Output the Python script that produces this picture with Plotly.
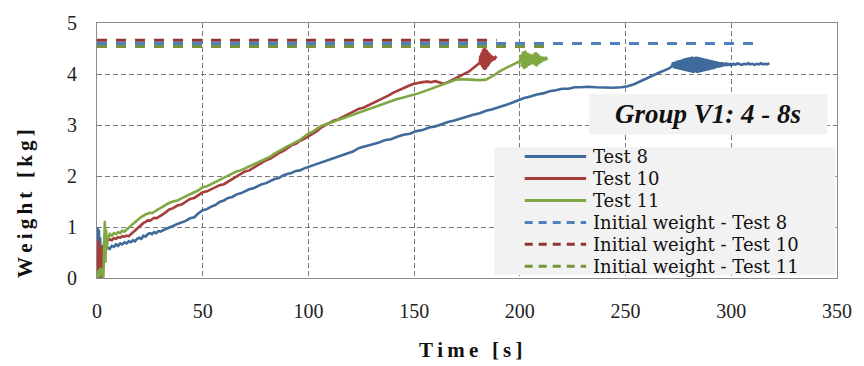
import plotly.graph_objects as go

# ---------------- data ----------------
t8 = [0, 0.3, 0.6, 0.9, 1.2, 1.5, 1.8, 2.2, 2.6, 3.0, 3.5, 4, 5, 6, 7, 8, 9, 10, 11, 12, 13, 14, 15, 16, 17, 18, 19, 20,
      21, 22, 23, 24, 25, 26, 27, 28, 29, 30, 32, 34, 36, 38, 40, 42, 44, 46, 48, 50, 52, 54, 56, 58, 60, 62, 64, 66,
      68, 70, 72, 74, 76, 78, 80, 82, 84, 86, 88, 90, 92, 94, 96, 98, 100, 103, 106, 109, 112, 115, 118, 121, 124,
      127, 130, 133, 136, 139, 142, 145, 148, 151, 154, 157, 160, 163, 166, 169, 172, 175, 178, 181, 184, 187, 190,
      193, 196, 199, 202, 205, 208, 211, 214, 217, 220, 223, 226, 229, 232, 236, 240, 244, 248, 251, 254, 257, 260,
      263, 266, 269, 271, 272, 272.5, 273, 273.5, 274, 274.5, 275, 275.5, 276, 276.5, 277, 277.5, 278, 278.5, 279,
      279.5, 280, 280.5, 281, 281.5, 282, 282.5, 283, 283.5, 284, 284.5, 285, 285.5, 286, 286.5, 287, 287.5, 288,
      288.5, 289, 289.5, 290, 290.5, 291, 291.5, 292, 292.5, 293, 293.5, 294, 294.5, 295, 295.5, 296, 296.5, 297,
      297.5, 298, 298.5, 299, 299.5, 300, 301, 302, 303, 304, 305, 306, 307, 308, 309, 310, 311, 312, 313, 314, 315,
      316, 317, 318]
w8 = [0.0, 1.0, 0.3, 0.95, 0.15, 0.8, 0.0, 0.6, 0.1, 0.55, 0.45, 0.58, 0.60, 0.57, 0.63, 0.61, 0.66, 0.63, 0.68, 0.66,
      0.70, 0.68, 0.72, 0.70, 0.74, 0.72, 0.77, 0.79, 0.77, 0.83, 0.81, 0.86, 0.88, 0.86, 0.90, 0.88, 0.92, 0.91,
      0.95, 0.98, 1.02, 1.06, 1.09, 1.12, 1.17, 1.19, 1.27, 1.33, 1.35, 1.40, 1.43, 1.49, 1.52, 1.57, 1.59, 1.64,
      1.66, 1.70, 1.74, 1.76, 1.80, 1.84, 1.86, 1.90, 1.94, 1.96, 2.01, 2.04, 2.06, 2.10, 2.11, 2.15, 2.18, 2.21,
      2.27, 2.30, 2.36, 2.40, 2.45, 2.48, 2.55, 2.58, 2.62, 2.65, 2.70, 2.72, 2.77, 2.81, 2.83, 2.88, 2.90, 2.95,
      2.97, 3.02, 3.06, 3.09, 3.13, 3.16, 3.20, 3.23, 3.28, 3.31, 3.35, 3.38, 3.43, 3.48, 3.53, 3.56, 3.60, 3.62,
      3.66, 3.68, 3.71, 3.71, 3.74, 3.74, 3.75, 3.74, 3.73, 3.73, 3.74, 3.76, 3.80, 3.86, 3.92, 3.97, 4.03, 4.08,
      4.12, 4.16, 4.23, 4.11, 4.24, 4.10, 4.26, 4.09, 4.27, 4.08, 4.28, 4.07, 4.30, 4.06, 4.31, 4.05, 4.32, 4.04,
      4.33, 4.03, 4.34, 4.02, 4.33, 4.03, 4.34, 4.02, 4.33, 4.03, 4.32, 4.04, 4.31, 4.05, 4.30, 4.06, 4.29, 4.07,
      4.28, 4.08, 4.27, 4.09, 4.26, 4.10, 4.25, 4.12, 4.24, 4.13, 4.23, 4.14, 4.23, 4.15, 4.22, 4.16, 4.22, 4.16,
      4.21, 4.17, 4.21, 4.17, 4.20, 4.18, 4.21, 4.19, 4.18, 4.20, 4.19, 4.21, 4.19, 4.20, 4.18, 4.20, 4.19, 4.21,
      4.19, 4.20, 4.19, 4.21, 4.20, 4.20]

t10 = [0, 0.3, 0.6, 0.9, 1.2, 1.5, 1.8, 2.1, 2.4, 2.7, 3.0, 3.4, 3.8, 4.2, 5, 6, 7, 8, 9, 10, 11, 12, 13, 14, 15, 16,
       17, 18, 19, 20, 21, 22, 23, 24, 25, 26, 27, 28, 29, 30, 32, 34, 36, 38, 40, 42, 44, 46, 48, 50, 52, 54, 56,
       58, 60, 62, 64, 66, 68, 70, 72, 74, 76, 78, 80, 82, 84, 86, 88, 90, 92, 94, 96, 98, 100, 102, 104, 106, 108,
       110, 112, 114, 116, 118, 120, 122, 124, 126, 128, 130, 132, 134, 136, 138, 140, 142, 144, 146, 148, 150, 152,
       154, 156, 158, 160, 162, 164, 166, 168, 170, 172, 174, 176, 178, 180, 181, 181.3, 181.6, 181.9, 182.2,
       182.5, 182.8, 183.1, 183.4, 183.7, 184, 184.3, 184.6, 184.9, 185.2, 185.5, 185.8, 186.1, 186.4, 186.7,
       187, 187.5, 188, 188.5, 189]
w10 = [0.0, 0.75, 0.1, 0.7, 0.0, 0.6, 0.05, 0.55, 0.2, 0.65, 0.3, 0.72, 0.6, 0.75, 0.73, 0.76, 0.74, 0.78, 0.77, 0.80,
       0.79, 0.82, 0.81, 0.83, 0.82, 0.86, 0.90, 0.93, 0.97, 1.00, 1.05, 1.08, 1.10, 1.13, 1.12, 1.16, 1.18, 1.17,
       1.20, 1.22, 1.27, 1.34, 1.37, 1.42, 1.44, 1.50, 1.55, 1.57, 1.62, 1.68, 1.70, 1.74, 1.77, 1.82, 1.84, 1.89,
       1.94, 2.00, 2.04, 2.09, 2.11, 2.16, 2.22, 2.26, 2.31, 2.34, 2.40, 2.45, 2.49, 2.55, 2.60, 2.63, 2.69, 2.73,
       2.78, 2.84, 2.88, 2.95, 3.00, 3.04, 3.09, 3.11, 3.15, 3.20, 3.23, 3.28, 3.32, 3.34, 3.38, 3.41, 3.45, 3.49,
       3.54, 3.58, 3.63, 3.67, 3.71, 3.75, 3.78, 3.81, 3.83, 3.84, 3.85, 3.84, 3.86, 3.83, 3.81, 3.84, 3.88, 3.93,
       3.97, 4.01, 4.05, 4.12, 4.18, 4.22, 4.36, 4.18, 4.42, 4.14, 4.48, 4.10, 4.52, 4.08, 4.50, 4.10, 4.47, 4.14,
       4.44, 4.17, 4.41, 4.21, 4.38, 4.24, 4.36, 4.26, 4.34, 4.28, 4.33, 4.31, 4.32]

t11 = [0, 0.5, 1.0, 1.5, 2.0, 2.5, 3.0, 3.4, 3.7, 4.0, 4.3, 4.6, 5, 6, 7, 8, 9, 10, 11, 12, 13, 14, 15, 16, 17, 18,
       19, 20, 21, 22, 23, 24, 25, 26, 27, 28, 29, 30, 32, 34, 36, 38, 40, 42, 44, 46, 48, 50, 52, 54, 56, 58, 60,
       62, 64, 66, 68, 70, 72, 74, 76, 78, 80, 82, 84, 86, 88, 90, 92, 94, 96, 98, 100, 102, 104, 106, 108, 110, 112,
       114, 116, 118, 120, 122, 124, 126, 128, 130, 132, 134, 136, 138, 140, 142, 144, 146, 148, 150, 152, 154, 156,
       158, 160, 162, 164, 166, 168, 170, 172, 175, 178, 181, 184, 186, 188, 190, 192, 194, 196, 198, 200, 200.5,
       201, 201.5, 202, 202.5, 203, 203.5, 204, 204.5, 205, 205.5, 206, 206.5, 207, 207.5, 208, 208.5, 209,
       209.5, 210, 210.5, 211, 211.5, 212, 212.5, 213]
w11 = [0.0, 0.15, 0.02, 0.2, 0.05, 0.18, 0.0, 0.5, 1.12, 0.3, 0.95, 0.55, 0.75, 0.86, 0.83, 0.88, 0.86, 0.90, 0.88,
       0.93, 0.91, 0.95, 0.98, 1.02, 1.06, 1.10, 1.14, 1.17, 1.20, 1.22, 1.25, 1.26, 1.28, 1.27, 1.30, 1.32, 1.35,
       1.37, 1.42, 1.47, 1.50, 1.52, 1.56, 1.60, 1.64, 1.69, 1.72, 1.78, 1.80, 1.84, 1.88, 1.92, 1.97, 2.01, 2.04,
       2.09, 2.11, 2.15, 2.19, 2.23, 2.26, 2.31, 2.35, 2.38, 2.44, 2.49, 2.53, 2.58, 2.62, 2.66, 2.71, 2.77, 2.83,
       2.87, 2.93, 2.98, 3.01, 3.04, 3.07, 3.10, 3.13, 3.16, 3.19, 3.21, 3.24, 3.27, 3.30, 3.34, 3.37, 3.40, 3.43,
       3.45, 3.48, 3.51, 3.53, 3.55, 3.57, 3.59, 3.62, 3.65, 3.68, 3.71, 3.74, 3.77, 3.80, 3.84, 3.87, 3.89, 3.90,
       3.89, 3.88, 3.88, 3.89, 3.93, 3.98, 4.04, 4.09, 4.13, 4.17, 4.21, 4.25, 4.38, 4.14, 4.44, 4.10, 4.46, 4.12,
       4.42, 4.16, 4.40, 4.18, 4.38, 4.20, 4.40, 4.17, 4.43, 4.15, 4.40, 4.19, 4.36, 4.22, 4.34, 4.25, 4.33, 4.27,
       4.31, 4.28, 4.30]

init_names = ["Initial weight - Test 8", "Initial weight - Test 10", "Initial weight - Test 11"]
init_weight = [4.60, 4.66, 4.54]
init_time_end = [314, 189, 213]

test_names = ["Test 8", "Test 10", "Test 11"]
x_ticks = [0, 50, 100, 150, 200, 250, 300, 350]
y_ticks = [0, 1, 2, 3, 4, 5]
box_label = "Group V1: 4 - 8s"
x_title = "Time [s]"
y_title = "Weight [kg]"

# ---------------- styling ----------------
line_colors = ["#3F6A9C", "#A63D3A", "#7FA843"]
dash_colors = ["#4F81BD", "#8E3634", "#77933C"]
FONT = "'Liberation Serif', 'Times New Roman', Tinos, 'DejaVu Serif', serif"
LEG_FONT = "'DejaVu Serif', 'Liberation Serif', serif"
TS = "\u2009"  # thin space used for the letter-spaced axis titles


def spaced(s):
    return TS.join(ch if ch != " " else " " for ch in s)


fig = go.Figure()
for name, t, w, c in zip(test_names, [t8, t10, t11], [w8, w10, w11], line_colors):
    fig.add_trace(go.Scatter(x=t, y=w, mode="lines", name=name, showlegend=False,
                             line=dict(color=c, width=2.6)))
for name, wv, te, c in zip(init_names, init_weight, init_time_end, dash_colors):
    fig.add_trace(go.Scatter(x=[0, te], y=[wv, wv], mode="lines", name=name, showlegend=False,
                             line=dict(color=c, width=3, dash="10px,9px")))

axis_style = dict(showgrid=True, gridcolor="#7a7a7a", gridwidth=1, griddash="5px,3px",
                  showline=True, linecolor="#8c8c8c", linewidth=1.2, mirror=True,
                  zeroline=False, ticks="outside", tickcolor="rgba(0,0,0,0)",
                  tickfont=dict(family=FONT, size=20, color="#222", weight="normal"))

fig.update_xaxes(range=[0, 350], tickvals=x_ticks, ticklen=15, **axis_style)
fig.update_yaxes(range=[0, 5], tickvals=y_ticks, ticklen=15, **axis_style)

# axis titles (placed like the reference, which has the y title off-centre)
fig.add_annotation(xref="paper", yref="paper", x=0.505, y=-0.282, text=spaced(x_title),
                   showarrow=False, xanchor="center", yanchor="middle",
                   font=dict(family=FONT, size=21, color="#111", weight="bold"))
fig.add_annotation(xref="paper", yref="paper", x=-0.098, y=0.292, text=spaced(y_title),
                   showarrow=False, textangle=-90, xanchor="center", yanchor="middle",
                   font=dict(family=FONT, size=21, color="#111", weight="bold"))

# label box
fig.add_shape(type="rect", xref="paper", yref="paper", x0=0.665, x1=0.987, y0=0.563, y1=0.722,
              fillcolor="#f2f2f2", line=dict(width=0), layer="above")
fig.add_annotation(xref="paper", yref="paper", x=0.826, y=0.643, text=box_label, showarrow=False,
                   xanchor="center", yanchor="middle",
                   font=dict(family=FONT, size=27, color="#111", weight="bold", style="italic"))

# legend box (drawn by hand so the sample lines and row spacing match the reference)
fig.add_shape(type="rect", xref="paper", yref="paper", x0=0.537, x1=0.998, y0=0.012, y1=0.513,
              fillcolor="#f2f2f2", line=dict(width=0), layer="above")
legend_names = test_names + init_names
legend_colors = line_colors + dash_colors
legend_dash = ["solid"] * 3 + ["8px,6px"] * 3
row_y = [0.476, 0.390, 0.304, 0.218, 0.132, 0.046]
for name, c, d, yy in zip(legend_names, legend_colors, legend_dash, row_y):
    fig.add_shape(type="line", xref="paper", yref="paper", x0=0.578, x1=0.661, y0=yy, y1=yy,
                  line=dict(color=c, width=3, dash=d), layer="above")
    fig.add_annotation(xref="paper", yref="paper", x=0.669, y=yy, text=name, showarrow=False,
                       xanchor="left", yanchor="middle", borderpad=0,
                       font=dict(family=LEG_FONT, size=18, color="#111", weight="normal"))

fig.update_layout(
    width=864, height=366,
    margin=dict(l=97, r=20, t=15, b=88),
    paper_bgcolor="white", plot_bgcolor="white",
    font=dict(family=FONT),
    showlegend=False,
)

fig.write_html("out.html")
